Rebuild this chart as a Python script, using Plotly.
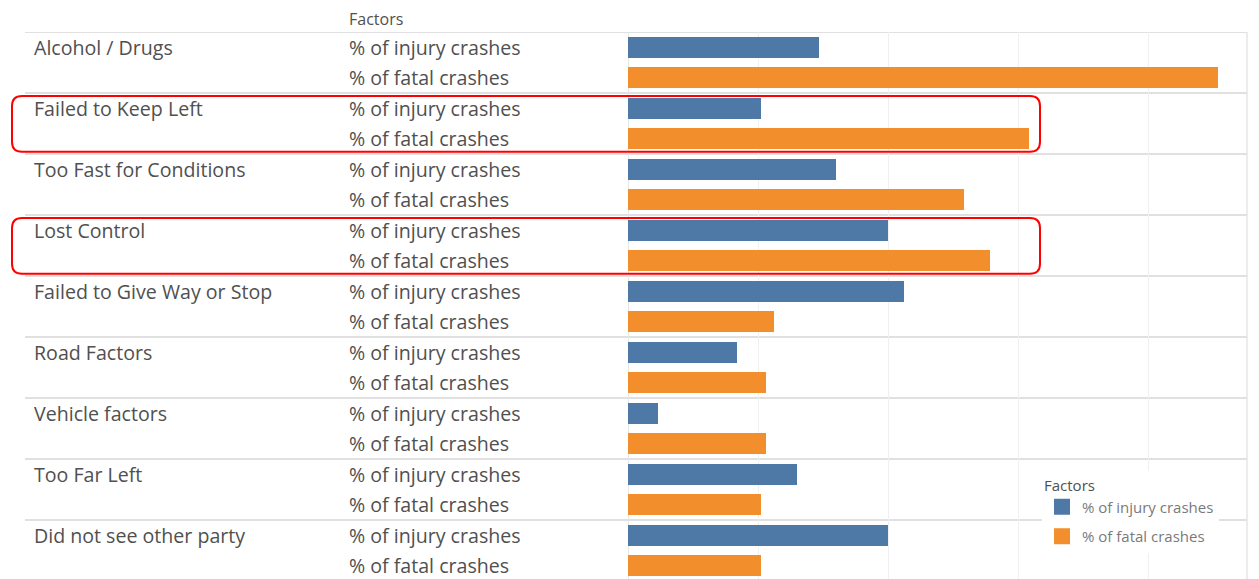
import plotly.graph_objects as go

categories = ["Alcohol / Drugs", "Failed to Keep Left", "Too Fast for Conditions",
              "Lost Control", "Failed to Give Way or Stop", "Road Factors",
              "Vehicle factors", "Too Far Left", "Did not see other party"]
series_names = ["% of injury crashes", "% of fatal crashes"]
injury = [7.35, 5.1, 8.0, 10.0, 10.6, 4.2, 1.15, 6.5, 10.0]
fatal = [22.7, 15.4, 12.9, 13.9, 5.6, 5.3, 5.3, 5.1, 5.1]
highlighted = ["Failed to Keep Left", "Lost Control"]
header = "Factors"

colors = ["#4E79A7", "#F28E2B"]
text_color = "#505050"
font_family = "Open Sans, Noto Sans, sans-serif"

OFF = 8  # page body margin offset
W, H = 1259, 579
ml, mr, mt, mb = 628 - OFF, 20, 32 - OFF, OFF
plot_w = W - ml - mr
plot_h = H - mt - mb
row_px = 30.5
n_rows_visible = plot_h / row_px

def px_to_paper_x(px):
    return (px - OFF - ml) / plot_w

def px_to_paper_y(py):
    return (H - mb - (py - OFF)) / plot_h

fig = go.Figure()
for s, (name, vals) in enumerate(zip(series_names, [injury, fatal])):
    fig.add_trace(go.Bar(
        x=vals,
        y=[2 * i + s for i in range(len(categories))],
        orientation="h",
        name=name,
        marker=dict(color=colors[s], line=dict(width=0)),
        width=0.68,
        showlegend=False,
        hoverinfo="x+name",
    ))
    # legend entry with a larger square swatch
    fig.add_trace(go.Scatter(
        x=[None], y=[None], mode="markers", name=name,
        marker=dict(symbol="square", size=16, color=colors[s]),
        legendgroup=name, showlegend=True, hoverinfo="skip",
    ))

annotations = []
shapes = []
for i, cat in enumerate(categories):
    annotations.append(dict(
        text=cat, xref="paper", yref="y", x=px_to_paper_x(32), y=2 * i,
        xanchor="left", yanchor="middle", showarrow=False,
        font=dict(size=19.6, color=text_color, family=font_family)))
    for s, name in enumerate(series_names):
        annotations.append(dict(
            text=name, xref="paper", yref="y", x=px_to_paper_x(347), y=2 * i + s,
            xanchor="left", yanchor="middle", showarrow=False,
            font=dict(size=19.6, color=text_color, family=font_family)))
    shapes.append(dict(
        type="line", xref="paper", yref="y",
        x0=px_to_paper_x(25), x1=1, y0=2 * i - 0.5, y1=2 * i - 0.5,
        line=dict(color="#d6d6d6", width=1.3), layer="below"))

annotations.append(dict(
    text=header, xref="paper", yref="paper", x=px_to_paper_x(347), y=1,
    xanchor="left", yanchor="bottom", yshift=0, showarrow=False,
    font=dict(size=16, color=text_color, family=font_family)))

# right border
shapes.append(dict(type="line", xref="paper", yref="paper", x0=1, x1=1, y0=0, y1=1,
                   line=dict(color="#e0e0e0", width=1.2)))

# red highlight boxes (rounded)
r_px = 10
x0p, x1p = px_to_paper_x(12), px_to_paper_x(1040)
rx = r_px / plot_w
ry = r_px / plot_h
y_top_val = -0.5
for cat in highlighted:
    g = categories.index(cat)
    yt = 1 - ((2 * g - 0.4) - y_top_val) * row_px / plot_h
    yb = 1 - ((2 * g + 1.43) - y_top_val) * row_px / plot_h
    path = (f"M {x0p + rx},{yt} L {x1p - rx},{yt} Q {x1p},{yt} {x1p},{yt - ry} "
            f"L {x1p},{yb + ry} Q {x1p},{yb} {x1p - rx},{yb} "
            f"L {x0p + rx},{yb} Q {x0p},{yb} {x0p},{yb + ry} "
            f"L {x0p},{yt - ry} Q {x0p},{yt} {x0p + rx},{yt} Z")
    shapes.append(dict(type="path", xref="paper", yref="paper", path=path,
                       line=dict(color="#FF0000", width=2)))

fig.update_layout(
    width=W, height=H,
    margin=dict(l=ml, r=mr, t=mt, b=mb, pad=0),
    paper_bgcolor="white", plot_bgcolor="white",
    bargap=0,
    xaxis=dict(range=[0, 23.8], dtick=5, showticklabels=False, ticks="",
               showgrid=True, gridcolor="#f0f0f0", gridwidth=1,
               zeroline=True, zerolinecolor="#e6e6e6", zerolinewidth=1,
               fixedrange=True),
    yaxis=dict(range=[y_top_val + n_rows_visible, y_top_val], showticklabels=False,
               ticks="", showgrid=False, zeroline=False, fixedrange=True),
    showlegend=True,
    legend=dict(
        title=dict(text="Factors", font=dict(size=15, color=text_color, family=font_family)),
        x=px_to_paper_x(1042), y=px_to_paper_y(471), xanchor="left", yanchor="top",
        bgcolor="white", borderwidth=0,
        font=dict(size=15, color="#7a7a7a", family=font_family),
        itemwidth=30, itemsizing="trace", traceorder="grouped", tracegroupgap=7),
    annotations=annotations,
    shapes=shapes,
    font=dict(family=font_family, color=text_color),
)

fig.write_html("out.html")
